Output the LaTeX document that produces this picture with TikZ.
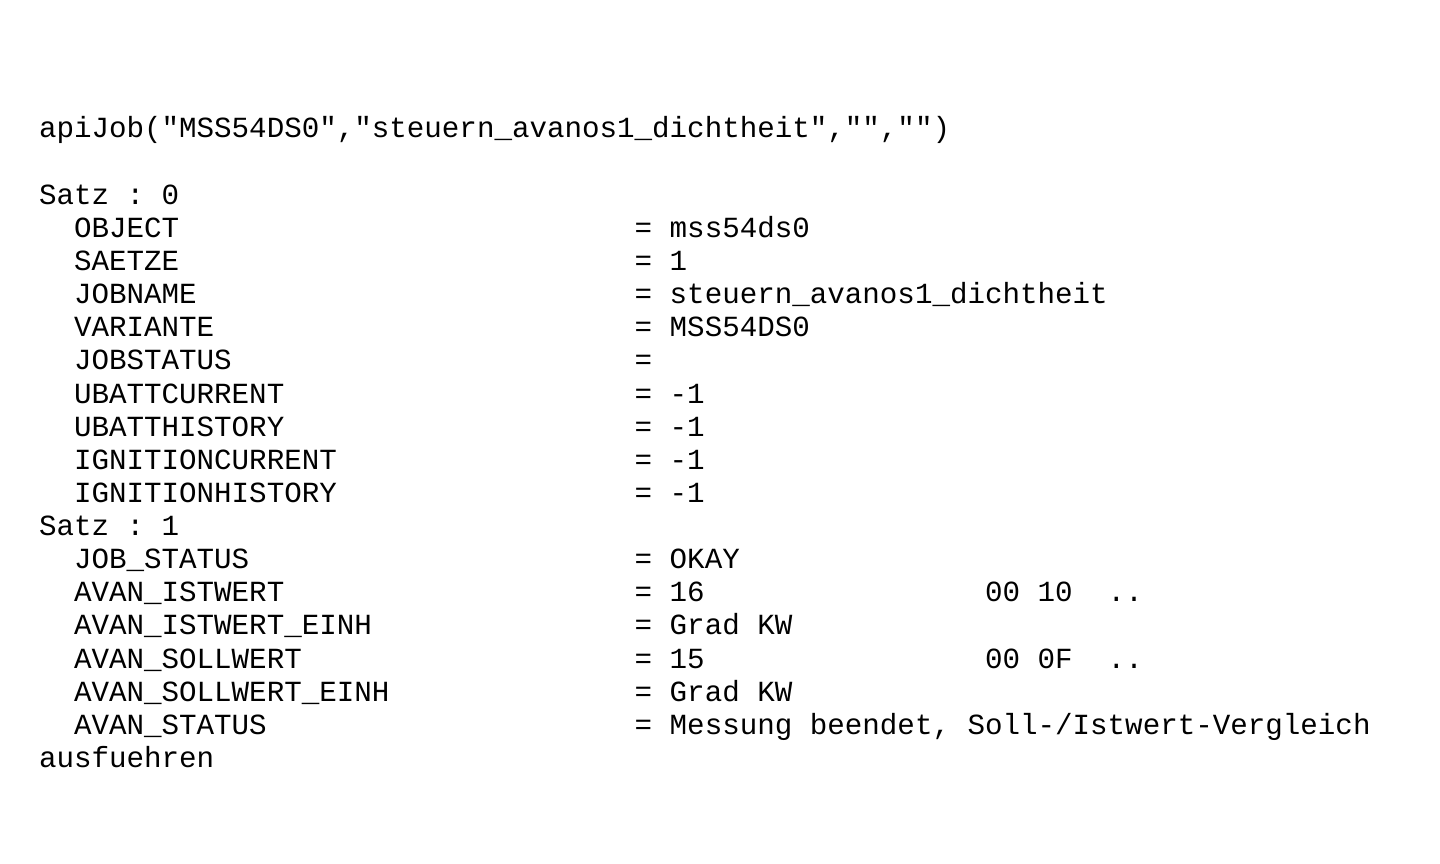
\documentclass[tikz,border=0pt]{standalone}
\usepackage{fontspec}
\setmonofont{Liberation Mono}
\begin{document}
\begin{tikzpicture}[x=1pt,y=-1pt,
  txt/.style={anchor=base west, inner sep=0pt, outer sep=0pt, text=black,
    font=\ttfamily\fontsize{29.2}{33}\selectfont}]
\useasboundingbox[fill=white] (0,0) rectangle (1440,864);
\def\cw{17.52}
\def\xo{39}
\def\lh{33.13}
\def\yo{138}
% helper: column position n, row r
\newcommand\cx[1]{\xo+#1*\cw}
\newcommand\ry[1]{\yo+#1*\lh}
\node[txt] (l0) at ({\cx{0}},{\ry{0}}) {apiJob("MSS54DS0","steuern\_avanos1\_dichtheit","","")};
\node[txt] (s0) at ({\cx{0}},{\ry{2}}) {Satz : 0};
\node[txt] (k3) at ({\cx{2}},{\ry{3}}) {OBJECT};
\node[txt] (e3) at ({\cx{34}},{\ry{3}}) {= mss54ds0};
\node[txt] (k4) at ({\cx{2}},{\ry{4}}) {SAETZE};
\node[txt] (e4) at ({\cx{34}},{\ry{4}}) {= 1};
\node[txt] (k5) at ({\cx{2}},{\ry{5}}) {JOBNAME};
\node[txt] (e5) at ({\cx{34}},{\ry{5}}) {= steuern\_avanos1\_dichtheit};
\node[txt] (k6) at ({\cx{2}},{\ry{6}}) {VARIANTE};
\node[txt] (e6) at ({\cx{34}},{\ry{6}}) {= MSS54DS0};
\node[txt] (k7) at ({\cx{2}},{\ry{7}}) {JOBSTATUS};
\node[txt] (e7) at ({\cx{34}},{\ry{7}}) {=};
\node[txt] (k8) at ({\cx{2}},{\ry{8}}) {UBATTCURRENT};
\node[txt] (e8) at ({\cx{34}},{\ry{8}}) {= -1};
\node[txt] (k9) at ({\cx{2}},{\ry{9}}) {UBATTHISTORY};
\node[txt] (e9) at ({\cx{34}},{\ry{9}}) {= -1};
\node[txt] (k10) at ({\cx{2}},{\ry{10}}) {IGNITIONCURRENT};
\node[txt] (e10) at ({\cx{34}},{\ry{10}}) {= -1};
\node[txt] (k11) at ({\cx{2}},{\ry{11}}) {IGNITIONHISTORY};
\node[txt] (e11) at ({\cx{34}},{\ry{11}}) {= -1};
\node[txt] (s1) at ({\cx{0}},{\ry{12}}) {Satz : 1};
\node[txt] (k13) at ({\cx{2}},{\ry{13}}) {JOB\_STATUS};
\node[txt] (e13) at ({\cx{34}},{\ry{13}}) {= OKAY};
\node[txt] (k14) at ({\cx{2}},{\ry{14}}) {AVAN\_ISTWERT};
\node[txt] (e14) at ({\cx{34}},{\ry{14}}) {= 16};
\node[txt] (h14) at ({\cx{54}},{\ry{14}}) {00 10};
\node[txt] (d14) at ({\cx{61}},{\ry{14}}) {..};
\node[txt] (k15) at ({\cx{2}},{\ry{15}}) {AVAN\_ISTWERT\_EINH};
\node[txt] (e15) at ({\cx{34}},{\ry{15}}) {= Grad KW};
\node[txt] (k16) at ({\cx{2}},{\ry{16}}) {AVAN\_SOLLWERT};
\node[txt] (e16) at ({\cx{34}},{\ry{16}}) {= 15};
\node[txt] (h16) at ({\cx{54}},{\ry{16}}) {00 0F};
\node[txt] (d16) at ({\cx{61}},{\ry{16}}) {..};
\node[txt] (k17) at ({\cx{2}},{\ry{17}}) {AVAN\_SOLLWERT\_EINH};
\node[txt] (e17) at ({\cx{34}},{\ry{17}}) {= Grad KW};
\node[txt] (k18) at ({\cx{2}},{\ry{18}}) {AVAN\_STATUS};
\node[txt] (e18) at ({\cx{34}},{\ry{18}}) {= Messung beendet, Soll-/Istwert-Vergleich};
\node[txt] (l19) at ({\cx{0}},{\ry{19}}) {ausfuehren};
\end{tikzpicture}
\end{document}
